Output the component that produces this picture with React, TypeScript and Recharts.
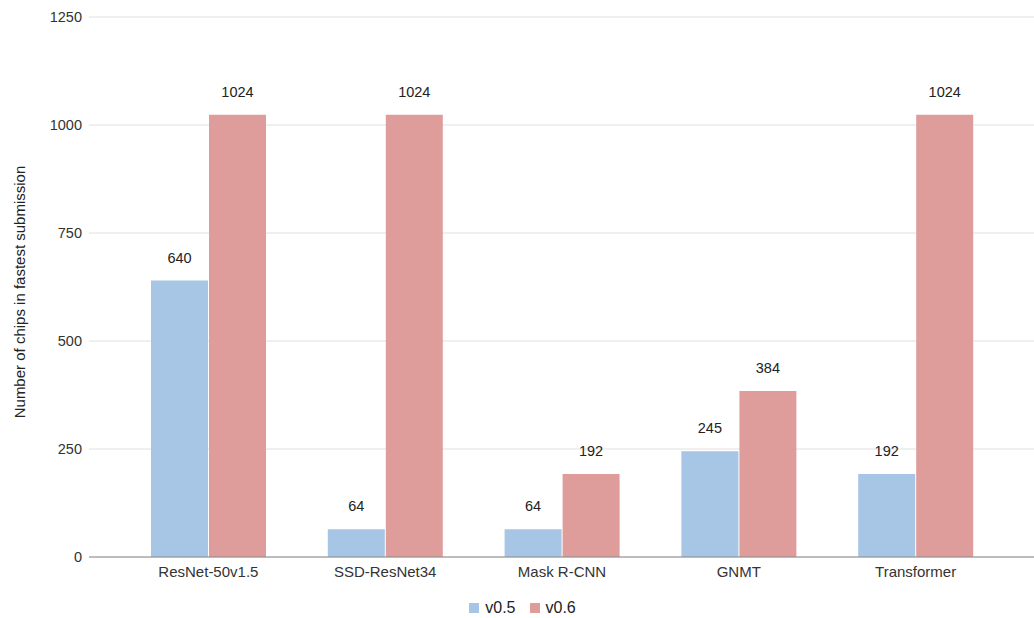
import { FC } from "react"
import { Bar, BarChart, CartesianGrid, Label, LabelList, Legend, XAxis, YAxis } from "recharts"

const benchmarks = ["ResNet-50v1.5", "SSD-ResNet34", "Mask R-CNN", "GNMT", "Transformer"]
const chipsV05 = [640, 64, 64, 245, 192]
const chipsV06 = [1024, 1024, 192, 384, 1024]
const yTicks = [0, 250, 500, 750, 1000, 1250]

const data = benchmarks.map((name, i) => ({
  name,
  "v0.5": chipsV05[i],
  "v0.6": chipsV06[i],
}))

const FONT = "'Liberation Sans', Arial, Helvetica, sans-serif"
const BLUE = "#a7c5e4"
const RED = "#de9d9b"

const AxisTitle: FC<any> = ({ viewBox }) => {
  const cx = viewBox.x + 19
  const cy = viewBox.y + viewBox.height / 2 + 5
  return (
    <text
      x={cx}
      y={cy}
      transform={`rotate(-90 ${cx} ${cy})`}
      textAnchor="middle"
      dominantBaseline="central"
      fontSize={15}
      fontFamily={FONT}
      fill="#222"
    >
      Number of chips in fastest submission
    </text>
  )
}

// square swatch + name, centred a little right of the chart middle
const LegendItems: FC<any> = ({ payload }) => (
  <div style={{ display: "flex", justifyContent: "center", alignItems: "center", gap: 14, paddingLeft: 11, fontFamily: FONT }}>
    {(payload || []).map((entry: any) => (
      <div key={entry.value} style={{ display: "flex", alignItems: "center", gap: 6 }}>
        <span style={{ width: 10, height: 10, background: entry.color, display: "inline-block" }} />
        <span style={{ fontSize: 16, color: "#222", lineHeight: "18px" }}>{entry.value}</span>
      </div>
    ))}
  </div>
)

const App = () => {
  return (
    <div style={{ position: "absolute", left: 0, top: 0, background: "#fff" }}>
      <BarChart
        width={1034}
        height={618}
        data={data}
        margin={{ top: 17, right: 0, bottom: 0, left: 0 }}
        barSize={57}
        barGap={1}
        style={{ fontFamily: FONT }}
      >
        <CartesianGrid vertical={false} stroke="#e0e0e0" />
        <XAxis
          dataKey="name"
          height={42}
          padding={{ left: 31, right: 30 }}
          tickLine={false}
          tickSize={0}
          tickMargin={9}
          axisLine={{ stroke: "#8a8a8a" }}
          tick={{ fontSize: 15, fill: "#333", fontFamily: FONT }}
        />
        <YAxis
          width={89}
          domain={[0, 1250]}
          ticks={yTicks}
          axisLine={false}
          tickLine={false}
          tickSize={0}
          tickMargin={7}
          tick={{ fontSize: 14.5, fill: "#333", fontFamily: FONT }}
        >
          <Label content={<AxisTitle />} />
        </YAxis>
        <Legend
          verticalAlign="bottom"
          align="center"
          content={<LegendItems />}
          wrapperStyle={{ paddingBottom: 1 }}
        />
        <Bar dataKey="v0.5" fill={BLUE} isAnimationActive={false}>
          <LabelList dataKey="v0.5" position="top" offset={18} fill="#222" fontSize={14.5} fontFamily={FONT} />
        </Bar>
        <Bar dataKey="v0.6" fill={RED} isAnimationActive={false}>
          <LabelList dataKey="v0.6" position="top" offset={18} fill="#222" fontSize={14.5} fontFamily={FONT} />
        </Bar>
      </BarChart>
    </div>
  )
}

export default App
